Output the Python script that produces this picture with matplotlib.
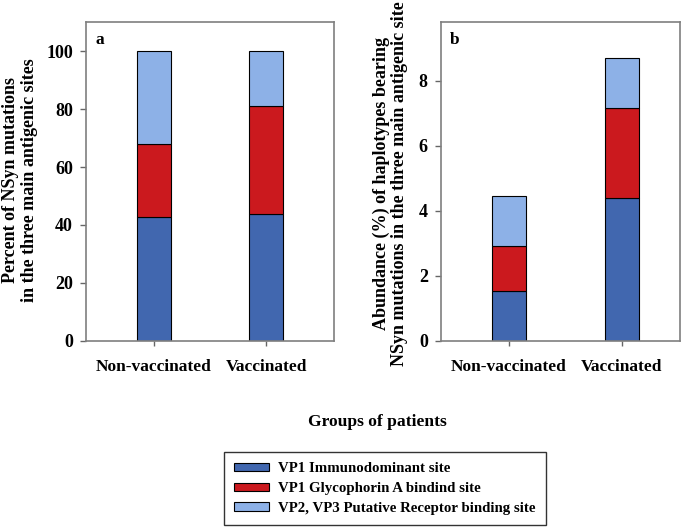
import matplotlib
matplotlib.use('Agg')
import matplotlib.pyplot as plt
from matplotlib.patches import Patch
import numpy as np

plt.rcParams.update({
    'font.family': 'Liberation Serif',
    'font.weight': 'bold',
    'font.size': 12,
})

groups = ['Non-vaccinated', 'Vaccinated']
sites = ['VP1 Immunodominant site', 'VP1 Glycophorin A bindind site',
         'VP2, VP3 Putative Receptor binding site']
colors = ['#4167AF', '#CB191E', '#8DB1E7']

# panel a: percent of NSyn mutations per site
pct_immuno = [42.8, 43.7]
pct_glyco = [25.1, 37.5]
pct_receptor = [32.1, 18.8]

# panel b: abundance (%) of haplotypes
abund_immuno = [1.52, 4.38]
abund_glyco = [1.39, 2.77]
abund_receptor = [1.55, 1.56]

fig = plt.figure(figsize=(6.92, 5.28), dpi=100)
ax_a = fig.add_axes([0.1243, 0.3547, 0.3584, 0.6031])
ax_b = fig.add_axes([0.6373, 0.3547, 0.3458, 0.6031])

x = np.arange(len(groups))
w = 0.30

def stack(ax, series):
    bottom = np.zeros(len(groups))
    for vals, c in zip(series, colors):
        ax.bar(x, vals, w, bottom=bottom, color=c, edgecolor='black', linewidth=0.8)
        bottom += np.array(vals)

stack(ax_a, [pct_immuno, pct_glyco, pct_receptor])
stack(ax_b, [abund_immuno, abund_glyco, abund_receptor])

ax_a.set_xlim(-0.603, 1.605)
ax_a.set_ylim(0, 110)
ax_a.set_yticks([0, 20, 40, 60, 80, 100])
ax_b.set_xlim(-0.60, 1.52)
ax_b.set_ylim(0, 9.8)
ax_b.set_yticks([0, 2, 4, 6, 8])

for ax, letter in [(ax_a, 'a'), (ax_b, 'b')]:
    ax.set_xticks(x)
    ax.set_xticklabels(groups)
    ax.tick_params(axis='y', direction='out', length=4.5, width=1, color='#666666',
                   labelsize=13, pad=5)
    ax.tick_params(axis='x', direction='out', length=3.5, width=1, color='#666666',
                   labelsize=12.5, pad=10)
    for s in ax.spines.values():
        s.set_color('#7f7f7f')
        s.set_linewidth(1.2)
    ax.text(0.037, 0.945, letter, transform=ax.transAxes, fontsize=12.5,
            fontweight='bold', ha='left', va='center')

fig.text(0.029, 0.659, 'Percent of NSyn mutations\nin the three main antigenic sites',
         rotation=90, ha='center', va='center', fontsize=13, fontweight='bold',
         multialignment='center', linespacing=1.1)
fig.text(0.5636, 0.653, 'Abundance (%) of haplotypes bearing\nNSyn mutations in the three main antigenic site',
         rotation=90, ha='center', va='center', fontsize=13, fontweight='bold',
         multialignment='center', linespacing=1.1)

fig.text(0.546, 0.2013, 'Groups of patients', ha='center', va='center',
         fontsize=12.6, fontweight='bold')

handles = [Patch(facecolor=c, edgecolor='black', linewidth=0.8) for c in colors]
leg = fig.legend(handles, sites, loc='upper left',
                 bbox_to_anchor=(224 / 692, 1 - 452 / 528),
                 fontsize=10.7, frameon=True, fancybox=False,
                 edgecolor='black', handlelength=2.35, handleheight=0.5,
                 labelspacing=0.45, borderaxespad=0, borderpad=0.7,
                 handletextpad=0.6)
leg.get_frame().set_linewidth(1.0)

fig.savefig('out.png', dpi=100)
